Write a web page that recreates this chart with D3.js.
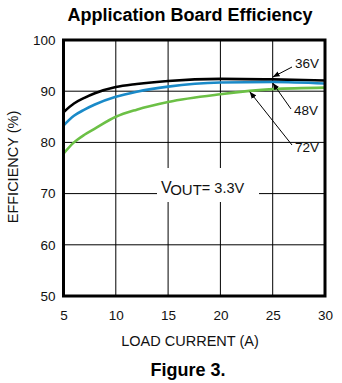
<!DOCTYPE html>
<html><head><meta charset="utf-8">
<script src="https://cdn.jsdelivr.net/npm/d3@7"></script>
<style>body{margin:0;background:#fff}svg{display:block}text{font-family:"Liberation Sans",Arial,sans-serif}</style>
</head><body>
<svg id="c" width="342" height="383"></svg>
<script>
const loadCurrent = [5, 6, 7, 8, 10, 12, 15, 20, 25, 30];
const eff36V = [85.9, 87.6, 88.7, 89.6, 90.8, 91.4, 92.0, 92.4, 92.3, 92.1];
const eff48V = [83.3, 85.2, 86.4, 87.4, 88.9, 89.9, 90.9, 91.7, 91.8, 91.5];
const eff72V = [77.8, 80.0, 81.5, 82.7, 85.0, 86.4, 87.9, 89.4, 90.4, 90.7];
const xTicks = [5, 10, 15, 20, 25, 30];
const yTicks = [50, 60, 70, 80, 90, 100];
const seriesNames = ["36V", "48V", "72V"];
const seriesColors = ["#000000", "#1a8ac8", "#6cc046"];
// annotation: label, target point (current, efficiency)
const annotations = [
  {label: "36V", x: 25, y: 92.75, lx: 295, ly: 68},
  {label: "48V", x: 25, y: 91.6, lx: 294, ly: 115},
  {label: "72V", x: 22.8, y: 89.9, lx: 295, ly: 152}
];

const svg = d3.select("#c");
const L = 63.5, R = 325, T = 40, B = 296;
const x = d3.scaleLinear().domain([5, 30]).range([L, R]);
const y = d3.scaleLinear().domain([50, 100]).range([B, T]);
const FF = '"Liberation Sans",Arial,sans-serif';

// title
svg.append("text").attr("x", 190).attr("y", 21).attr("text-anchor", "middle")
  .attr("font-size", 18).attr("font-weight", "bold").text("Application Board Efficiency");

// grid
const g = svg.append("g");
g.selectAll(".vg").data(xTicks.slice(1, -1)).enter().append("line")
  .attr("x1", d => x(d)).attr("x2", d => x(d)).attr("y1", T).attr("y2", B)
  .attr("stroke", "#000").attr("stroke-width", 1);
g.selectAll(".hg").data(yTicks.slice(1, -1)).enter().append("line")
  .attr("y1", d => y(d)).attr("y2", d => y(d)).attr("x1", L).attr("x2", R)
  .attr("stroke", "#000").attr("stroke-width", 1);

// axes (labels only)
const xAxis = d3.axisBottom(x).tickValues(xTicks).tickSize(0).tickPadding(0);
const xa = svg.append("g").attr("transform", `translate(0,${B + 20})`).call(xAxis);
xa.select(".domain").remove();
xa.selectAll("text").attr("font-size", 13.5).attr("fill", "#111").attr("dy", "0.32em")
  .style("font-family", FF);
const yAxis = d3.axisLeft(y).tickValues(yTicks).tickSize(0).tickPadding(0);
const ya = svg.append("g").attr("transform", `translate(${L - 8},0)`).call(yAxis);
ya.select(".domain").remove();
ya.selectAll("text").attr("font-size", 13.5).attr("fill", "#111")
  .style("font-family", FF);

svg.append("text").attr("x", 190).attr("y", 346).attr("text-anchor", "middle")
  .attr("font-size", 14.5).attr("fill", "#111").text("LOAD CURRENT (A)");
svg.append("text").attr("transform", "translate(18,167) rotate(-90)").attr("text-anchor", "middle")
  .attr("font-size", 14.5).attr("fill", "#111").text("EFFICIENCY (%)");
svg.append("text").attr("x", 188).attr("y", 376).attr("text-anchor", "middle")
  .attr("font-size", 18).attr("font-weight", "bold").text("Figure 3.");

// VOUT label with white box
svg.append("rect").attr("x", 157).attr("y", 168).attr("width", 102).attr("height", 34).attr("fill", "#fff");
const vt = svg.append("text").attr("x", 161).attr("y", 193).attr("font-size", 16).attr("fill", "#111");
vt.append("tspan").text("V");
vt.append("tspan").attr("font-size", 15).attr("dy", 2).attr("dx", -1.5).text("OUT");
vt.append("tspan").attr("dy", -2).attr("font-size", 14.5).text("= 3.3V");

// curves
const line = d3.line().x(d => x(d[0])).y(d => y(d[1])).curve(d3.curveMonotoneX);
const series = [eff36V, eff48V, eff72V];
svg.append("clipPath").attr("id", "pc").append("rect")
  .attr("x", L).attr("y", T).attr("width", R - L).attr("height", B - T);
[2, 0, 1].forEach(i => {
  svg.append("path").datum(loadCurrent.map((c, j) => [c, series[i][j]]))
    .attr("d", line).attr("fill", "none").attr("stroke", seriesColors[i])
    .attr("stroke-width", 2.6).attr("clip-path", "url(#pc)");
});

// frame
svg.append("rect").attr("x", L).attr("y", T).attr("width", R - L).attr("height", B - T)
  .attr("fill", "none").attr("stroke", "#000").attr("stroke-width", 3);

// annotations
svg.append("defs").append("marker").attr("id", "ah").attr("viewBox", "0 0 10 10")
  .attr("refX", 10).attr("refY", 5).attr("markerWidth", 7).attr("markerHeight", 7)
  .attr("markerUnits", "userSpaceOnUse").attr("orient", "auto")
  .append("path").attr("d", "M0,1 L10,5 L0,9 Z").attr("fill", "#000");
annotations.forEach(a => {
  const ty = a.label === "36V" ? a.ly - 1 : a.label === "48V" ? a.ly - 6 : a.ly - 7;
  svg.append("line").attr("x1", a.lx - 3).attr("y1", ty).attr("x2", x(a.x)).attr("y2", y(a.y))
    .attr("stroke", "#000").attr("stroke-width", 1).attr("marker-end", "url(#ah)");
  svg.append("text").attr("x", a.lx).attr("y", a.ly).attr("font-size", 13.5).attr("fill", "#111").text(a.label);
});
</script>
</body></html>
